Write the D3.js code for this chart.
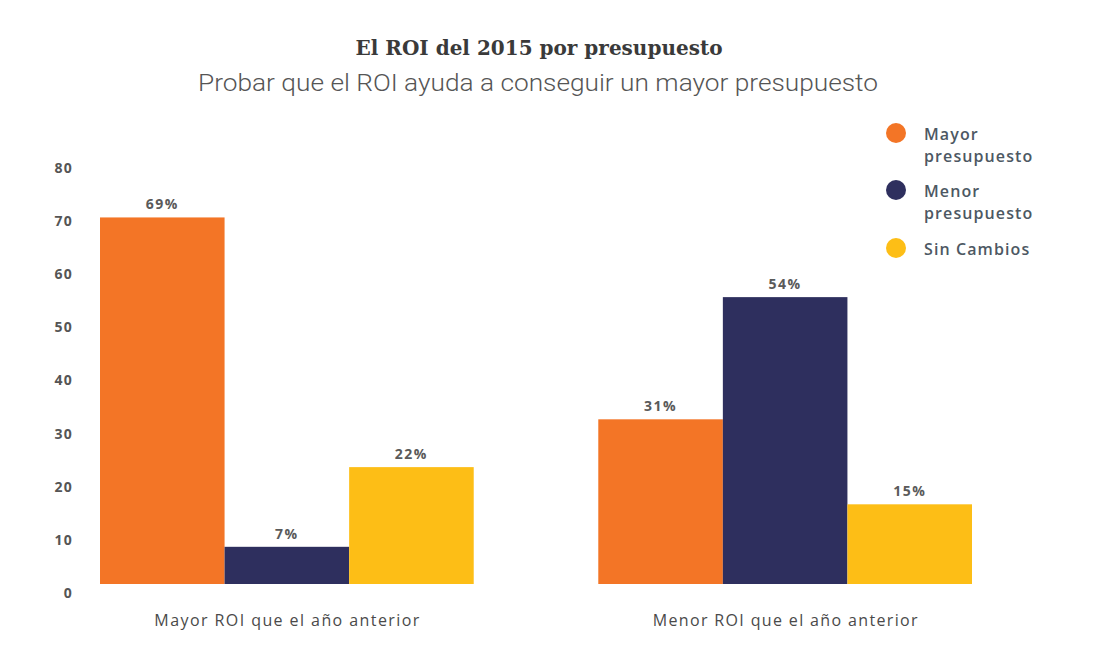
<!DOCTYPE html>
<html>
<head>
<meta charset="utf-8">
<script src="https://cdn.jsdelivr.net/npm/d3@7"></script>
<style>
  body { margin: 0; background: #fff; }
</style>
</head>
<body>
<div id="chart"></div>
<script>
// donnees
var categories = ["Mayor ROI que el año anterior", "Menor ROI que el año anterior"];
var series = ["Mayor presupuesto", "Menor presupuesto", "Sin Cambios"];
var mayorPresupuesto = [69, 31];
var menorPresupuesto = [7, 54];
var sinCambios = [22, 15];
var yTicks = [0, 10, 20, 30, 40, 50, 60, 70, 80];
var couleurs = ["#F37526", "#2E2F5E", "#FDBE16"];

var W = 1096, H = 650;

var svg = d3.select("#chart")
  .append("svg")
  .attr("width", W)
  .attr("height", H);

var rows = categories.map((c, i) => ({
  cat: c,
  vals: [mayorPresupuesto[i], menorPresupuesto[i], sinCambios[i]]
}));

var x0 = d3.scaleBand()
  .domain(categories)
  .range([100, 972])
  .paddingInner(0.25)
  .paddingOuter(0);

var x1 = d3.scaleBand()
  .domain(series)
  .range([0, x0.bandwidth()]);

var y = d3.scaleLinear()
  .domain([0, 80])
  .range([584, 159]);

var color = d3.scaleOrdinal().domain(series).range(couleurs);

// titres
svg.append("text")
  .attr("x", 539).attr("y", 55)
  .attr("text-anchor", "middle")
  .attr("font-family", "'DejaVu Serif', serif")
  .attr("font-weight", "bold")
  .attr("font-size", 21)
  .attr("fill", "#3a3a3a")
  .attr("textLength", 367)
  .attr("lengthAdjust", "spacingAndGlyphs")
  .text("El ROI del 2015 por presupuesto");

svg.append("text")
  .attr("x", 538).attr("y", 91)
  .attr("text-anchor", "middle")
  .attr("font-family", "Roboto, sans-serif")
  .attr("font-weight", 300)
  .attr("font-size", 23)
  .attr("fill", "#555")
  .attr("textLength", 680)
  .attr("lengthAdjust", "spacingAndGlyphs")
  .text("Probar que el ROI ayuda a conseguir un mayor presupuesto");

// axe y (etiquettes seules)
svg.append("g")
  .attr("font-family", "'Open Sans', sans-serif")
  .attr("font-weight", "bold")
  .attr("font-size", 14)
  .attr("letter-spacing", 1.3)
  .attr("fill", "#555")
  .attr("text-anchor", "end")
  .selectAll("text")
  .data(yTicks)
  .enter()
  .append("text")
    .attr("x", 73)
    .attr("y", d => y(d) + 9)
    .attr("dy", "0.35em")
    .text(d => d);

// barres
var groups = svg.append("g")
  .selectAll("g")
  .data(rows)
  .enter()
  .append("g")
    .attr("transform", d => `translate(${x0(d.cat)},0)`);

groups.selectAll("rect")
  .data(d => d.vals.map((v, i) => ({ key: series[i], value: v })))
  .enter()
  .append("rect")
    .attr("x", d => x1(d.key))
    .attr("y", d => y(d.value))
    .attr("width", x1.bandwidth())
    .attr("height", d => y(0) - y(d.value))
    .attr("fill", d => color(d.key));

groups.selectAll("text.val")
  .data(d => d.vals.map((v, i) => ({ key: series[i], value: v })))
  .enter()
  .append("text")
    .attr("class", "val")
    .attr("x", d => x1(d.key) + x1.bandwidth() / 2)
    .attr("y", d => y(d.value) - 8)
    .attr("text-anchor", "middle")
    .attr("font-family", "'Open Sans', sans-serif")
    .attr("font-weight", "bold")
    .attr("font-size", 14)
    .attr("letter-spacing", 1.5)
    .attr("fill", "#5a5a5a")
    .text(d => d.value + "%");

// categories
svg.append("g")
  .selectAll("text")
  .data(categories)
  .enter()
  .append("text")
    .attr("x", d => x0(d) + x0.bandwidth() / 2)
    .attr("y", 626)
    .attr("text-anchor", "middle")
    .attr("font-family", "'Open Sans', sans-serif")
    .attr("font-size", 16)
    .attr("fill", "#4a4a4a")
    .attr("textLength", 265)
    .attr("lengthAdjust", "spacing")
    .text(d => d);

// legende
var legendLines = [["Mayor", "presupuesto"], ["Menor", "presupuesto"], ["Sin Cambios"]];
var legend = svg.append("g")
  .selectAll("g")
  .data(series)
  .enter()
  .append("g")
    .attr("transform", (d, i) => `translate(896,${[133, 190, 248][i]})`);

legend.append("circle")
  .attr("r", 10)
  .attr("fill", d => color(d));

legend.append("text")
  .attr("x", 28)
  .attr("y", 1)
  .attr("font-family", "'Open Sans', sans-serif")
  .attr("font-weight", 600)
  .attr("font-size", 16)
  .attr("letter-spacing", 1.1)
  .attr("fill", "#4d5863")
  .selectAll("tspan")
  .data((d, i) => legendLines[i])
  .enter()
  .append("tspan")
    .attr("x", 28)
    .attr("dy", (d, i) => i === 0 ? "0.4em" : "1.35em")
    .text(d => d);
</script>
</body>
</html>
